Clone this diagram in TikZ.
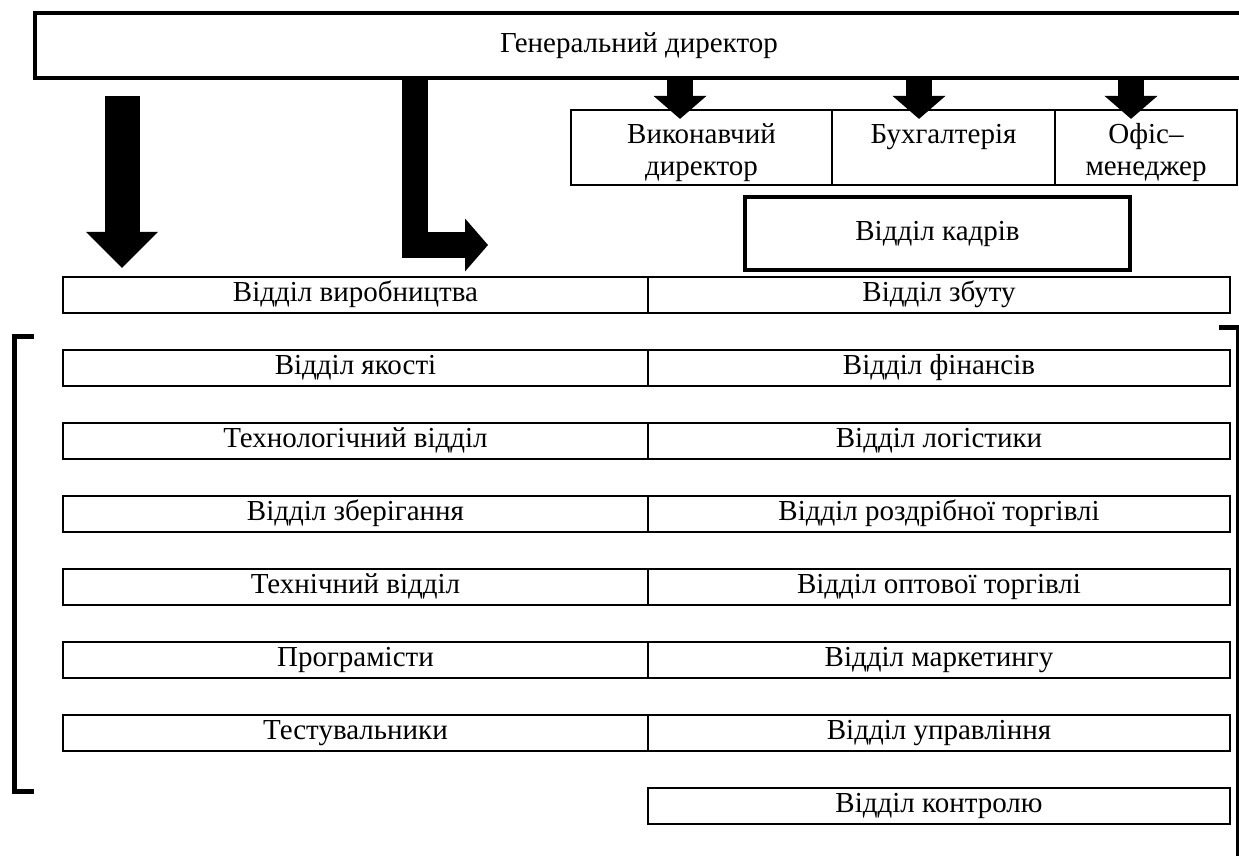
\documentclass[tikz,border=0pt]{standalone}
\usepackage{fontspec}
\setmainfont{Liberation Serif}
\usetikzlibrary{arrows.meta}
\tikzstyle{cell} = [draw, line width=2.4pt, inner sep=0pt, minimum height=36pt, text height=19pt, text depth=6pt]
\tikzstyle{topcell} = [draw, line width=2.2pt, inner sep=0pt, minimum height=75pt, align=center]
\tikzstyle{bigbox} = [draw, line width=4pt, inner sep=0pt]
\tikzstyle{block} = [line width=26pt, -{Triangle[width=53pt,length=23pt,line width=0pt]}]
\tikzstyle{bigblock} = [line width=35pt, -{Triangle[width=72pt,length=36pt,line width=0pt]}]
\tikzstyle{bracket} = [line width=5pt]
\newcommand{\lift}{\rule{0pt}{30pt}}

\begin{document}
\begin{tikzpicture}[x=1pt, y=-1pt, font=\fontsize{29pt}{32pt}\selectfont]
	\clip (0,0) rectangle (1239,855);
	\node[bigbox, minimum width=1208pt, minimum height=65pt] (gd) at (639,45.5) {Генеральний директор};

	\node[topcell, minimum width=261pt] (vd) at (701.5,147.5) {\lift Виконавчий\\директор};
	\node[topcell, minimum width=223pt] (bh) at (943.5,147.5) {\lift Бухгалтерія\\\phantom{д}};
	\node[topcell, minimum width=182pt] (om) at (1146,147.5) {\lift Офіс–\\менеджер};
	\node[bigbox, minimum width=385pt, minimum height=73pt] (vk) at (937.5,233.5) {Відділ кадрів};

	\foreach \i/\lname/\rname in {0/Відділ виробництва/Відділ збуту, 1/Відділ якості/Відділ фінансів,
		2/Технологічний відділ/Відділ логістики, 3/Відділ зберігання/Відділ роздрібної торгівлі,
		4/Технічний відділ/Відділ оптової торгівлі, 5/Програмісти/Відділ маркетингу,
		6/Тестувальники/Відділ управління}
	{
		\node[cell, minimum width=585pt] (l\i) at (355.5,295+73*\i) {\lname};
		\node[cell, minimum width=582pt] (r\i) at (939,295+73*\i) {\rname};
	}
	\node[cell, minimum width=582pt] (r7) at (939,806) {Відділ контролю};

	% arrows from the director
	\coordinate (cl) at (122,0);
	\coordinate (cL) at (415,0);
	\coordinate (lend) at (488,245);
	\path[bigblock, draw, shorten <=16pt, shorten >=8pt] (cl |- gd.south) -- (cl |- l0.north);
	\path[block, draw] (cL |- gd.south) |- (lend);
	\foreach \dest/\ax in {vd/680, bh/919, om/1131}
	{
		\coordinate (c\dest) at (\ax,0);
		\path[block, draw, shorten >=-10pt] (c\dest |- gd.south) -- (c\dest |- \dest.north);
	}

	% brackets
	\draw[bracket] (34,336) -- (14,336) -- (14,791) -- (34,791);
	\draw[bracket] (1219,327) -- (1238,327) -- (1238,860);
\end{tikzpicture}
\end{document}
